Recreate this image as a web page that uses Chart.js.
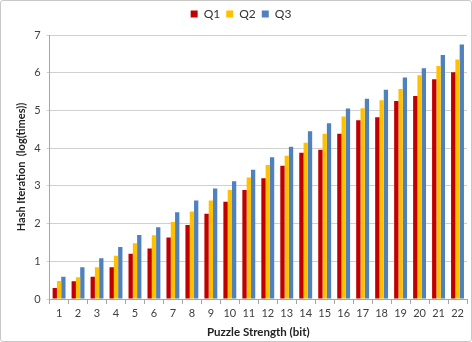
<!DOCTYPE html>
<html>
<head>
<meta charset="utf-8">
<script src="https://cdn.jsdelivr.net/npm/chart.js@4"></script>
<style>
  html, body { margin: 0; padding: 0; background: #fff; }
  #wrap { width: 470px; height: 340px; border: 1px solid #c8c8c8; border-radius: 3px; }
</style>
</head>
<body>
<div id="wrap"><canvas id="myChart" width="470" height="340"></canvas></div>
<script>
const categories = ["1", "2", "3", "4", "5", "6", "7", "8", "9", "10", "11",
    "12", "13", "14", "15", "16", "17", "18", "19", "20", "21", "22"];
const q1 = [0.29, 0.47, 0.59, 0.84, 1.20, 1.34, 1.63, 1.96, 2.26, 2.58, 2.89,
    3.20, 3.53, 3.88, 3.96, 4.38, 4.74, 4.82, 5.25, 5.38, 5.83, 6.01];
const q2 = [0.48, 0.58, 0.84, 1.15, 1.48, 1.69, 2.04, 2.32, 2.61, 2.89, 3.22,
    3.55, 3.80, 4.14, 4.38, 4.84, 5.06, 5.27, 5.57, 5.93, 6.18, 6.35];
const q3 = [0.59, 0.84, 1.08, 1.38, 1.70, 1.90, 2.30, 2.61, 2.93, 3.12, 3.43,
    3.76, 4.04, 4.45, 4.66, 5.05, 5.31, 5.55, 5.87, 6.12, 6.47, 6.75];
const yTicks = [0, 1, 2, 3, 4, 5, 6, 7];

const font = "Lato, 'Open Sans', sans-serif";

// a bit more room under the legend, like the original
const legendGap = {
    id: 'legendGap',
    beforeInit(chart) {
        const fit = chart.legend.fit;
        chart.legend.fit = function () {
            fit.bind(chart.legend)();
            this.height += 5;
        };
    }
};

const ctx = document.getElementById('myChart').getContext('2d');
new Chart(ctx, {
    type: 'bar',
    data: {
        labels: categories,
        datasets: [
            { label: 'Q1', data: q1, backgroundColor: '#C00000' },
            { label: 'Q2', data: q2, backgroundColor: '#FFC000' },
            { label: 'Q3', data: q3, backgroundColor: '#4F81BD' },
        ]
    },
    options: {
        responsive: false,
        animation: false,
        datasets: {
            bar: { categoryPercentage: 0.68, barPercentage: 1.0 }
        },
        layout: { padding: { top: 1, right: 4, left: 14, bottom: 2 } },
        scales: {
            x: {
                grid: {
                    display: true,
                    offset: true,
                    drawOnChartArea: false,
                    tickLength: 5,
                    color: '#a6a6a6'
                },
                border: { color: '#a6a6a6' },
                ticks: { color: '#404040', font: { family: font, size: 11 }, maxRotation: 0, autoSkip: false },
                title: {
                    display: true,
                    text: 'Puzzle Strength (bit)',
                    color: '#222',
                    font: { family: font, size: 11.5, weight: 'bold' },
                    padding: { top: 2, bottom: 0 }
                }
            },
            y: {
                min: 0,
                max: 7,
                afterBuildTicks: axis => { axis.ticks = yTicks.map(v => ({ value: v })); },
                grid: { color: '#d0d0d0', tickLength: 3 },
                border: { color: '#a6a6a6' },
                ticks: { color: '#404040', font: { family: font, size: 11 }, padding: 6 },
                title: {
                    display: true,
                    text: 'Hash Iteration  (log(times))',
                    color: '#222',
                    font: { family: font, size: 11, weight: 'bold' },
                    padding: { top: 0, bottom: 0 }
                }
            }
        },
        plugins: {
            legend: {
                position: 'top',
                labels: {
                    color: '#333',
                    font: { family: font, size: 12 },
                    boxWidth: 7,
                    boxHeight: 7,
                    padding: 6
                }
            },
            tooltip: { enabled: false }
        }
    },
    plugins: [legendGap]
});
</script>
</body>
</html>
